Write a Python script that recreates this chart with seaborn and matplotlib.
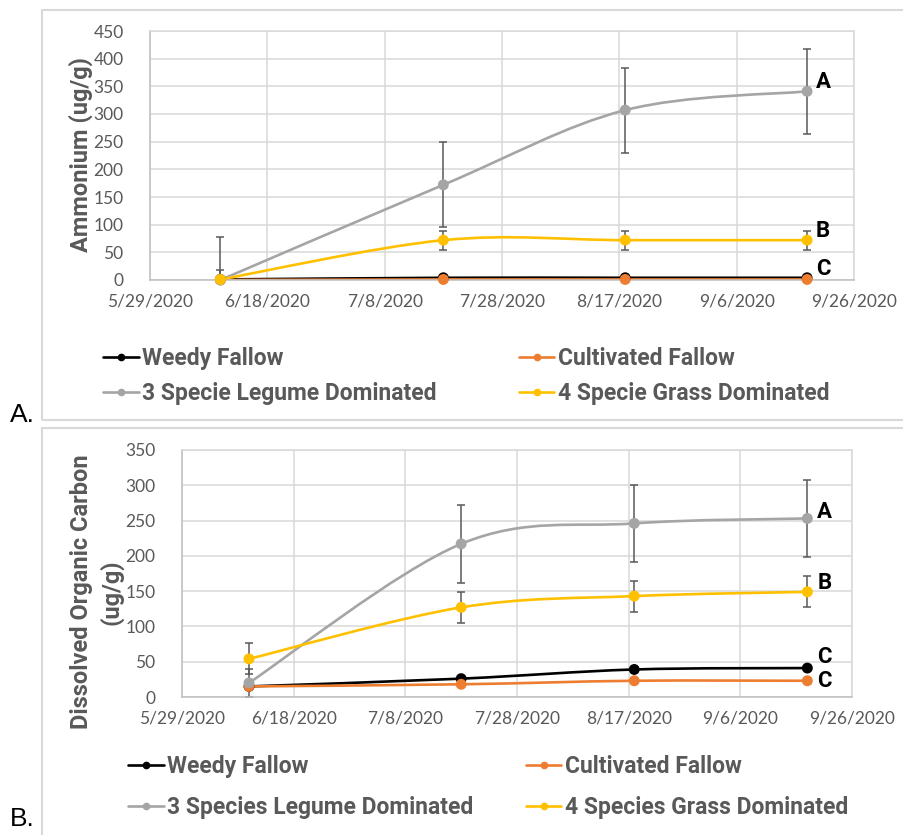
import matplotlib
matplotlib.use("Agg")
import matplotlib.pyplot as plt
import matplotlib.dates as mdates
from matplotlib.path import Path
from matplotlib.patches import PathPatch, Rectangle
from matplotlib.lines import Line2D
from matplotlib.ticker import FuncFormatter, MultipleLocator
import seaborn as sns
import numpy as np
import pandas as pd

# ---------------------------------------------------------------------------
# Data
# ---------------------------------------------------------------------------
sample_dates = ["2020-06-10", "2020-07-18", "2020-08-18", "2020-09-18"]
x_ticks = ["2020-05-29", "2020-06-18", "2020-07-08", "2020-07-28",
           "2020-08-17", "2020-09-06", "2020-09-26"]

names_a = ["Weedy Fallow", "Cultivated Fallow",
           "3 Specie Legume Dominated", "4 Specie Grass Dominated"]
names_b = ["Weedy Fallow", "Cultivated Fallow",
           "3 Species Legume Dominated", "4 Species Grass Dominated"]

# Ammonium (ug/g)
nh4_weedy = [1, 4, 4, 4]
nh4_cult = [0, 1, 1, 1]
nh4_legume = [0, 172, 307, 341]
nh4_grass = [1, 72, 72, 72]
nh4_weedy_err = [1, 1, 1, 1]
nh4_cult_err = [0, 0, 0, 0]
nh4_legume_err = [77, 77, 77, 77]
nh4_grass_err = [17, 17, 17, 17]
nh4_letters = ["C", None, "A", "B"]

# Dissolved organic carbon (ug/g)
doc_weedy = [15, 26, 39, 41]
doc_cult = [15, 18, 23, 23]
doc_legume = [20, 217, 246, 253]
doc_grass = [54, 127, 143, 149]
doc_weedy_err = [2, 3, 4, 3]
doc_cult_err = [1, 1, 1, 1]
doc_legume_err = [20, 55, 55, 55]
doc_grass_err = [22, 22, 22, 22]
doc_letters = ["C", "C", "A", "B"]

# ---------------------------------------------------------------------------
# Style
# ---------------------------------------------------------------------------
COLORS = ["#000000", "#ED7D31", "#A5A5A5", "#FFC000"]
TXT = "#595959"
GRID = "#D9D9D9"
BOLD_FONT = ["Roboto", "DejaVu Sans"]

sns.set_style("whitegrid")
plt.rcParams["font.family"] = ["Lato", "DejaVu Sans"]

W, H = 904, 835
fig = plt.figure(figsize=(W / 100, H / 100), dpi=100)


def px_box(left, top, right, bottom):
    return [left / W, 1 - bottom / H, (right - left) / W, (bottom - top) / H]


def smooth_path(x, y):
    # Excel style smoothed line: cubic bezier through every point
    pts = np.column_stack([x, y]).astype(float)
    n = len(pts)
    verts, codes = [pts[0]], [Path.MOVETO]
    for i in range(n - 1):
        p0, p1 = pts[max(i - 1, 0)], pts[i]
        p2, p3 = pts[i + 1], pts[min(i + 2, n - 1)]
        verts += [p1 + (p2 - p0) / 6, p2 - (p3 - p1) / 6, p2]
        codes += [Path.CURVE4] * 3
    return Path(verts, codes)


def draw_panel(ax, names, values, errors, letters, label_offsets, ymax):
    dates = pd.to_datetime(sample_dates)
    xnum = mdates.date2num(dates)
    df = pd.DataFrame({
        "date": np.tile(dates, len(names)),
        "value": np.concatenate(values),
        "series": np.repeat(names, len(sample_dates)),
    })

    for i, (vals, err) in enumerate(zip(values, errors)):
        ax.add_patch(PathPatch(smooth_path(xnum, vals), fill=False,
                               edgecolor=COLORS[i], lw=1.9,
                               zorder=2 + i * 0.1, capstyle="round"))
        ax.errorbar(xnum, vals, yerr=err, fmt="none", ecolor=TXT,
                    elinewidth=1.1, capsize=3, capthick=1.1,
                    zorder=2.05 + i * 0.1)

    sns.scatterplot(data=df, x="date", y="value", hue="series",
                    hue_order=names, palette=COLORS, s=62, linewidth=0,
                    ax=ax, legend=False, zorder=4, clip_on=False)

    for i, (vals, lab) in enumerate(zip(values, letters)):
        if lab is None:
            continue
        ax.annotate(lab, (xnum[-1], vals[-1]),
                    xytext=label_offsets[i], textcoords="offset pixels",
                    ha="left", va="center", fontsize=16, family=BOLD_FONT,
                    fontweight="bold", color="black", zorder=5)

    ticks = mdates.date2num(pd.to_datetime(x_ticks))
    ax.set_xlim(ticks[0], ticks[-1])
    ax.set_xticks(ticks)
    ax.xaxis.set_major_formatter(FuncFormatter(
        lambda v, p: (lambda d: f"{d.month}/{d.day}/{d.year}")(mdates.num2date(v))))
    ax.set_ylim(0, ymax)
    ax.yaxis.set_major_locator(MultipleLocator(50))
    ax.grid(True, color=GRID, lw=1.1)
    for side, sp in ax.spines.items():
        sp.set_color("#BFBFBF" if side in ("left", "bottom") else GRID)
        sp.set_linewidth(1.1)
    ax.tick_params(length=0, labelsize=12.5, labelcolor=TXT)
    ax.tick_params(axis="y", pad=19)
    ax.tick_params(axis="x", pad=10)
    ax.set_xlabel("")
    ax.set_ylabel("")


def add_legend(names, left, row_mid, spacing_pad, colspace):
    handles = [Line2D([0], [0], color=c, lw=1.9, marker="o", markersize=4.5)
               for c in COLORS]
    order = [0, 2, 1, 3]
    leg = fig.legend([handles[k] for k in order], [names[k] for k in order],
                     loc="center left", bbox_to_anchor=(left / W, 1 - row_mid / H),
                     ncol=2, frameon=False, borderpad=0, borderaxespad=0,
                     handlelength=1.55, handletextpad=0.15,
                     labelspacing=spacing_pad, columnspacing=colspace,
                     prop={"size": 16.5, "weight": "bold", "family": BOLD_FONT})
    for t in leg.get_texts():
        t.set_color(TXT)


# outer chart frames
fig.patches.append(Rectangle((42 / W, 1 - 420 / H), 1, 410 / H,
                             transform=fig.transFigure, fill=False,
                             edgecolor=GRID, lw=1.5))
fig.patches.append(Rectangle((42 / W, -0.1), 1, 0.1 + 1 - 428 / H,
                             transform=fig.transFigure, fill=False,
                             edgecolor=GRID, lw=1.5))

# Panel A -------------------------------------------------------------------
ax_a = fig.add_axes(px_box(150, 31, 854, 280))
draw_panel(ax_a, names_a,
           [nh4_weedy, nh4_cult, nh4_legume, nh4_grass],
           [nh4_weedy_err, nh4_cult_err, nh4_legume_err, nh4_grass_err],
           nh4_letters,
           [(9, 9), (9, 0), (9, 9), (9, 9)], 450)
fig.text(81 / W, 1 - 155 / H, "Ammonium (ug/g)", rotation=90, ha="center",
         va="center", fontsize=17, fontweight="bold", color=TXT,
         family=BOLD_FONT)
add_legend(names_a, 103, 376, 0.5, 3.6)
fig.text(10 / W, 1 - 422 / H, "A.", fontsize=19, color="black",
         family="Liberation Sans", ha="left", va="baseline")

# Panel B -------------------------------------------------------------------
ax_b = fig.add_axes(px_box(182, 450, 852, 697))
draw_panel(ax_b, names_b,
           [doc_weedy, doc_cult, doc_legume, doc_grass],
           [doc_weedy_err, doc_cult_err, doc_legume_err, doc_grass_err],
           doc_letters,
           [(10, 11), (10, 0), (10, 6), (10, 9)], 350)
fig.text(97 / W, 1 - 592 / H, "Dissolved Organic Carbon\n(ug/g)", rotation=90,
         ha="center", va="center", fontsize=17, fontweight="bold", color=TXT,
         linespacing=1.3, multialignment="center", family=BOLD_FONT)
add_legend(names_b, 128, 787, 0.8, 2.3)
fig.text(10 / W, 1 - 826 / H, "B.", fontsize=19, color="black",
         family="Liberation Sans", ha="left", va="baseline")

fig.savefig("out.png", dpi=100)
